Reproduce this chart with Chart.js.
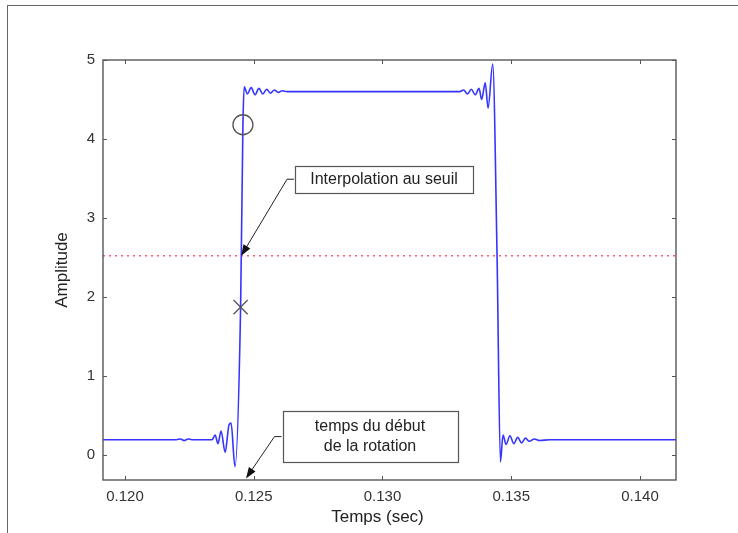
<!DOCTYPE html>
<html>
<head>
<meta charset="utf-8">
<script src="https://cdn.jsdelivr.net/npm/chart.js@4.4.1/dist/chart.umd.min.js"></script>
<style>
  html, body { margin: 0; padding: 0; background: #fff; }
  #wrap { position: relative; width: 738px; height: 533px; overflow: hidden; }
  #frame { position: absolute; left: 7px; top: 5px; width: 740px; height: 540px;
           border-top: 1px solid #666; border-left: 1px solid #666; }
  canvas { position: absolute; left: 0; top: 0; }
</style>
</head>
<body>
<div id="wrap"><div id="frame"></div><canvas id="c" width="738" height="533"></canvas></div>
<script>
// ---- Data ----
const times = [0.11915, 0.12200, 0.12215, 0.12230, 0.12245, 0.12260, 0.12338, 0.12350, 0.12361, 0.12373,
  0.12389, 0.12404, 0.12412, 0.12427, 0.12449, 0.12458, 0.12463, 0.12475, 0.12490, 0.12505,
  0.12520, 0.12535, 0.12550, 0.12565, 0.12580, 0.12595, 0.12610, 0.12630, 0.13300, 0.13315,
  0.13330, 0.13345, 0.13360, 0.13375, 0.13385, 0.13399, 0.13410, 0.13428, 0.13445, 0.13458,
  0.13468, 0.13480, 0.13495, 0.13510, 0.13525, 0.13540, 0.13555, 0.13570, 0.13590, 0.13610,
  0.13650, 0.14140];
const amplitude = [0.19, 0.19, 0.20, 0.18, 0.20, 0.19, 0.19, 0.25, 0.14, 0.30,
  0.03, 0.38, 0.40, -0.15, 1.87, 4.18, 4.66, 4.57, 4.65, 4.56,
  4.64, 4.57, 4.63, 4.58, 4.62, 4.59, 4.61, 4.60, 4.60, 4.62,
  4.57, 4.63, 4.56, 4.64, 4.50, 4.71, 4.39, 4.95, 2.50, -0.09,
  0.25, 0.13, 0.24, 0.14, 0.22, 0.15, 0.21, 0.17, 0.20, 0.18,
  0.19, 0.19];
const threshold = 2.52;
const circlePoint = [0.12458, 4.18];
const crossPoint = [0.12449, 1.87];
const xTicks = [0.120, 0.125, 0.130, 0.135, 0.140];
const yTicks = [0, 1, 2, 3, 4, 5];
const xRange = [0.119146, 0.141398];
const yRange = [-0.32, 5.0];
const xTitle = "Temps (sec)";
const yTitle = "Amplitude";
// annotations: text lines, arrow tip (data), box centre (data)
const annoTexts = [["Interpolation au seuil"], ["temps du début", "de la rotation"]];
const annoTips = [[0.124515, 2.52], [0.12470, -0.30]];
const annoBoxes = [[0.13006, 3.49], [0.129515, 0.23]];

// ---- Styles ----
const FONT = "'Liberation Sans', Arial, sans-serif";
const boxSizes = [[178, 27], [175, 51]];

const signal = times.map((t, i) => ({ x: t, y: amplitude[i] }));

const decor = {
  id: 'decor',
  afterDraw(chart) {
    const ctx = chart.ctx, a = chart.chartArea;
    const xs = chart.scales.x, ys = chart.scales.y;
    ctx.save();
    ctx.strokeStyle = '#4a4a4a'; ctx.lineWidth = 1.3;
    ctx.strokeRect(a.left, a.top, a.right - a.left, a.bottom - a.top);
    ctx.lineWidth = 1; ctx.strokeStyle = '#555';
    const tl = 4;
    xTicks.forEach(v => {
      const px = Math.round(xs.getPixelForValue(v)) + 0.5;
      ctx.beginPath(); ctx.moveTo(px, a.bottom); ctx.lineTo(px, a.bottom - tl);
      ctx.moveTo(px, a.top); ctx.lineTo(px, a.top + tl); ctx.stroke();
    });
    yTicks.forEach(v => {
      const py = Math.round(ys.getPixelForValue(v)) + 0.5;
      ctx.beginPath(); ctx.moveTo(a.left, py); ctx.lineTo(a.left + tl, py);
      ctx.moveTo(a.right, py); ctx.lineTo(a.right - tl, py); ctx.stroke();
    });
    ctx.fillStyle = '#222';
    ctx.font = '17px ' + FONT;
    ctx.textAlign = 'center'; ctx.textBaseline = 'middle';
    ctx.fillText(xTitle, (a.left + a.right) / 2 - 12, 517);
    ctx.save();
    ctx.translate(62, (a.top + a.bottom) / 2);
    ctx.rotate(-Math.PI / 2);
    ctx.fillText(yTitle, 0, 0);
    ctx.restore();
    annoTexts.forEach((lines, i) => {
      const cx = xs.getPixelForValue(annoBoxes[i][0]);
      const cy = ys.getPixelForValue(annoBoxes[i][1]);
      const tx = xs.getPixelForValue(annoTips[i][0]);
      const ty = ys.getPixelForValue(annoTips[i][1]);
      const [w, h] = boxSizes[i];
      const bl = cx - w / 2, bt = cy - h / 2;
      const sx = bl - 1, sy = cy;
      const mx = sx - 7, my = cy;
      ctx.strokeStyle = '#222'; ctx.lineWidth = 1;
      const ang = Math.atan2(ty - my, tx - mx);
      const hl = 11, hw = 4;
      const ex = tx - Math.cos(ang) * hl * 0.6, ey = ty - Math.sin(ang) * hl * 0.6;
      ctx.beginPath(); ctx.moveTo(sx, sy); ctx.lineTo(mx, my); ctx.lineTo(ex, ey); ctx.stroke();
      ctx.fillStyle = '#111';
      ctx.beginPath();
      ctx.moveTo(tx, ty);
      ctx.lineTo(tx - Math.cos(ang) * hl - Math.sin(ang) * hw, ty - Math.sin(ang) * hl + Math.cos(ang) * hw);
      ctx.lineTo(tx - Math.cos(ang) * hl + Math.sin(ang) * hw, ty - Math.sin(ang) * hl - Math.cos(ang) * hw);
      ctx.closePath(); ctx.fill();
      ctx.fillStyle = '#fff';
      ctx.fillRect(bl, bt, w, h);
      ctx.strokeStyle = '#555'; ctx.lineWidth = 1.2;
      ctx.strokeRect(Math.round(bl) + 0.5, Math.round(bt) + 0.5, w, h);
      ctx.fillStyle = '#222';
      ctx.font = '16px ' + FONT;
      ctx.textAlign = 'center'; ctx.textBaseline = 'middle';
      const lh = 20;
      lines.forEach((ln, k) => {
        ctx.fillText(ln, cx, cy + (k - (lines.length - 1) / 2) * lh);
      });
    });
    ctx.restore();
  }
};

new Chart(document.getElementById('c'), {
  type: 'line',
  data: {
    datasets: [
      { data: signal, borderColor: '#3535ff', borderWidth: 1.6, pointRadius: 0,
        cubicInterpolationMode: 'monotone', order: 2 },
      { data: [{ x: xRange[0], y: threshold }, { x: xRange[1], y: threshold }],
        borderColor: '#ff5a75', borderWidth: 1.4, borderDash: [2, 4], pointRadius: 0, order: 3 },
      { type: 'scatter', data: [{ x: circlePoint[0], y: circlePoint[1] }], pointStyle: 'circle',
        pointRadius: 10, borderColor: '#555', borderWidth: 1.3, backgroundColor: 'rgba(0,0,0,0)', order: 1 },
      { type: 'scatter', data: [{ x: crossPoint[0], y: crossPoint[1] }], pointStyle: 'crossRot',
        pointRadius: 10, borderColor: '#555', borderWidth: 1.3, order: 1 }
    ]
  },
  options: {
    responsive: false, animation: false,
    layout: { padding: { left: 0, right: 62, top: 60, bottom: 0 } },
    plugins: { legend: { display: false }, tooltip: { enabled: false } },
    scales: {
      x: {
        type: 'linear', min: xRange[0], max: xRange[1],
        grid: { display: false }, border: { display: false },
        afterBuildTicks: s => { s.ticks = xTicks.map(v => ({ value: v })); },
        afterFit: s => { s.height = 53; },
        ticks: { color: '#333', font: { size: 15, family: FONT }, padding: 0, maxRotation: 0,
                 callback: v => v.toFixed(3) }
      },
      y: {
        min: yRange[0], max: yRange[1],
        grid: { display: false }, border: { display: false },
        afterBuildTicks: s => { s.ticks = yTicks.map(v => ({ value: v })); },
        afterFit: s => { s.width = 103; },
        ticks: { color: '#333', font: { size: 15, family: FONT }, padding: 0,
                 callback: v => String(v) }
      }
    }
  },
  plugins: [decor]
});
</script>
</body>
</html>
